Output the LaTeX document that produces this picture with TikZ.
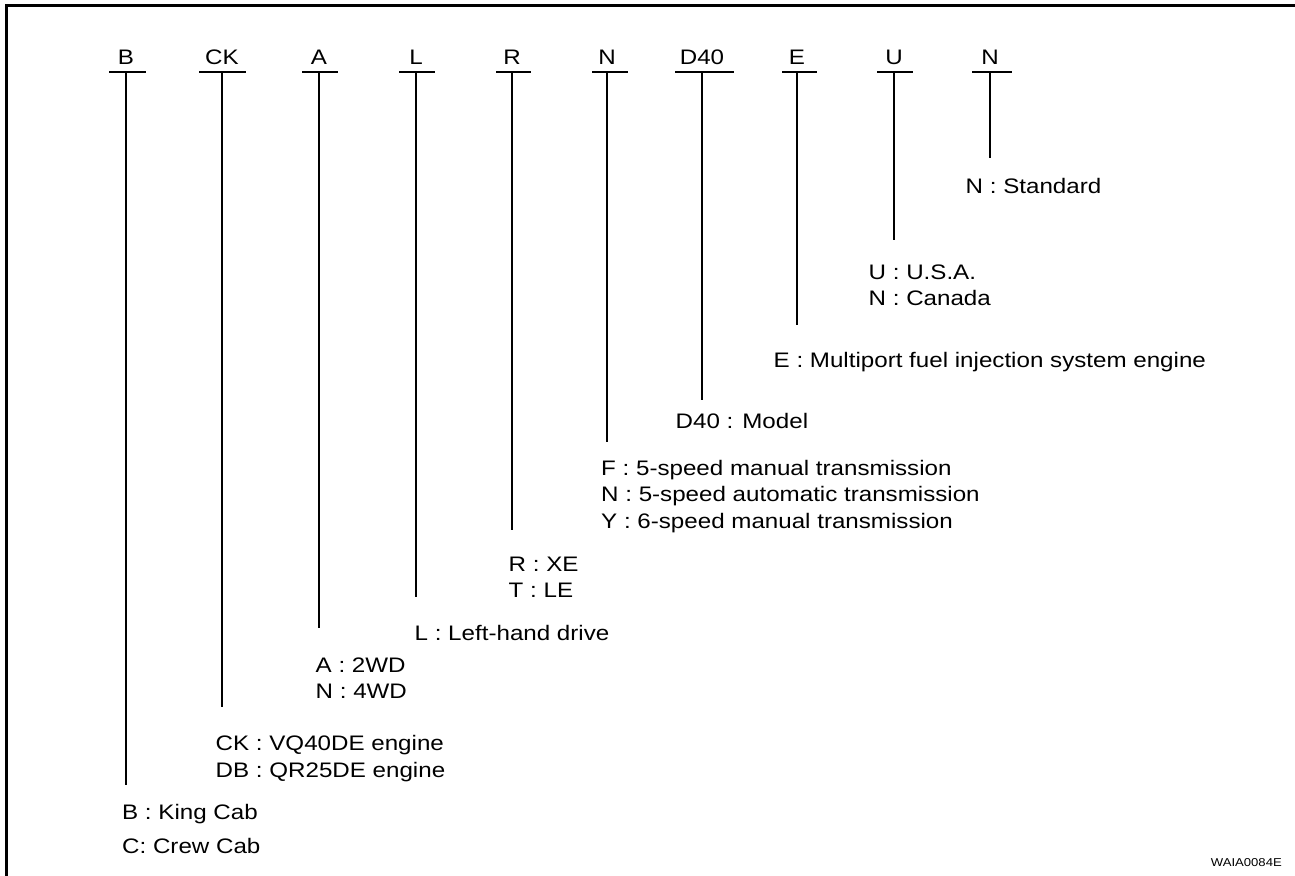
\documentclass[tikz,border=0pt]{standalone}
\usepackage{fontspec}
\setmainfont{Liberation Sans}[FakeStretch=1.15]
\begin{document}
\begin{tikzpicture}[x=1pt,y=-1pt,
  hdr/.style={anchor=base,inner sep=0pt,font=\fontsize{21}{26.5}\selectfont},
  lbl/.style={anchor=base west,inner sep=0pt,font=\fontsize{21}{26.5}\selectfont},
  uline/.style={line width=2.6pt},
  stem/.style={line width=1.5pt},
  frame/.style={line width=3pt}]
\useasboundingbox (0,0) rectangle (1295,875);
% frame (top and left only)
\draw[frame] (6.3,876) -- (6.3,5.5) -- (1296,5.5);
% headers
\foreach \n/\t/\x/\l/\r in {B/B/126/109/146, CK/CK/222/199/246, A/A/319/302/338, L/L/416/399/435, R/R/512/496/531, N/N/607/592/628, DF/D40/702/675/734, E/E/797/782/817, U/U/894/877/913, NN/N/990/972/1012}{
  \node[hdr] (h\n) at (\x,65) {\t};
  \coordinate (t\n) at (\x,72);
  \draw[uline] (\l,72) -- (\r,72);
}
% stem ends
\coordinate (eB) at (126,785);
\coordinate (eCK) at (222,707);
\coordinate (eA) at (319,628);
\coordinate (eL) at (416,597);
\coordinate (eR) at (512,530);
\coordinate (eN) at (607,442);
\coordinate (eDF) at (702,400);
\coordinate (eE) at (797,325);
\coordinate (eU) at (894,240);
\coordinate (eNN) at (990,158);
\foreach \n in {B,CK,A,L,R,N,DF,E,U,NN}{\draw[stem] (t\n) -- (e\n);}
% labels
\node[lbl] (lNN) at (965.5,193) {N : Standard};
\node[lbl] (lU1) at (868.5,279) {U : U.S.A.};
\node[lbl] (lU2) at (868.5,305) {N : Canada};
\node[lbl] (lE) at (773.5,367) {E : Multiport fuel injection system engine};
\node[lbl] (lDF) at (675.5,428) {D40 : Model};
\node[lbl] (lN1) at (601,475) {F : 5-speed manual transmission};
\node[lbl] (lN2) at (601,501.5) {N : 5-speed automatic transmission};
\node[lbl] (lN3) at (601,528) {Y : 6-speed manual transmission};
\node[lbl] (lR1) at (508.5,571) {R : XE};
\node[lbl] (lR2) at (508.5,597) {T : LE};
\node[lbl] (lL) at (414.5,640) {L : Left-hand drive};
\node[lbl] (lA1) at (315.5,672) {A : 2WD};
\node[lbl] (lA2) at (315.5,698) {N : 4WD};
\node[lbl] (lCK1) at (215.5,750.5) {CK : VQ40DE engine};
\node[lbl] (lCK2) at (215.5,777) {DB : QR25DE engine};
\node[lbl] (lB1) at (122,819) {B : King Cab};
\node[lbl] (lB2) at (122,853) {C: Crew Cab};
\node[anchor=base east,inner sep=0pt,font=\fontsize{11.4}{13}\selectfont] (code) at (1282,866) {WAIA0084E};
\end{tikzpicture}
\end{document}
